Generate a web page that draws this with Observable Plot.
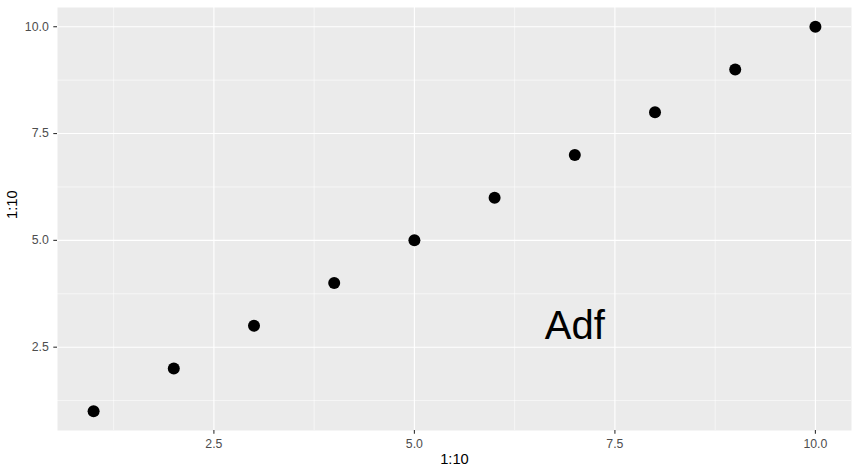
<!DOCTYPE html>
<html>
<head>
<meta charset="utf-8">
<script src="https://cdn.jsdelivr.net/npm/d3@7"></script>
<script src="https://cdn.jsdelivr.net/npm/@observablehq/plot@0.6"></script>
<style>
  html, body { margin: 0; padding: 0; background: #fff; }
  #chart svg { display: block; }
</style>
</head>
<body>
<div id="chart"></div>
<script>
const xValues = [1, 2, 3, 4, 5, 6, 7, 8, 9, 10];
const yValues = [1, 2, 3, 4, 5, 6, 7, 8, 9, 10];
const majorTicks = [2.5, 5.0, 7.5, 10.0];
const minorTicks = [1.25, 3.75, 6.25, 8.75];
const annotationLabel = ["Adf"];
const annotationX = [7];
const annotationY = [3];
const xTitle = "1:10";
const yTitle = "1:10";

const points = xValues.map((x, i) => ({x, y: yValues[i]}));
const annotations = annotationLabel.map((t, i) => ({x: annotationX[i], y: annotationY[i], t}));

const font = "'Liberation Sans', Arial, Helvetica, sans-serif";
const fmt = d3.format(".1f");

const chart = Plot.plot({
  width: 858,
  height: 471,
  marginLeft: 57,
  marginRight: 7,
  marginTop: 7,
  marginBottom: 41,
  style: {fontFamily: font, background: "#fff"},
  x: {domain: [0.55, 10.45]},
  y: {domain: [0.55, 10.45]},
  marks: [
    Plot.frame({fill: "#EBEBEB", stroke: null}),
    Plot.ruleX(minorTicks, {stroke: "#fff", strokeWidth: 0.55}),
    Plot.ruleY(minorTicks, {stroke: "#fff", strokeWidth: 0.55}),
    Plot.ruleX(majorTicks, {stroke: "#fff", strokeWidth: 1.1}),
    Plot.ruleY(majorTicks, {stroke: "#fff", strokeWidth: 1.1}),
    Plot.axisX(majorTicks, {
      ticks: majorTicks, tickFormat: fmt, tickSize: 3.7, tickPadding: 5,
      stroke: "#333", strokeWidth: 1.1, fill: "#4D4D4D",
      label: null
    }),
    Plot.axisY(majorTicks, {
      ticks: majorTicks, tickFormat: fmt, tickSize: 3.7, tickPadding: 5,
      stroke: "#333", strokeWidth: 1.1, fill: "#4D4D4D",
      label: null
    }),
    Plot.text([xTitle], {frameAnchor: "bottom", dy: 29, text: d => d, fontSize: 14.7, fill: "#000", lineAnchor: "middle"}),
    Plot.text([yTitle], {frameAnchor: "left", dx: -45, text: d => d, fontSize: 14.7, fill: "#000", rotate: -90, lineAnchor: "middle"}),
    Plot.dot(points, {x: "x", y: "y", r: 6, fill: "#000", stroke: null}),
    Plot.text(annotations, {x: "x", y: "y", text: "t", fontSize: 40, fill: "#000", textAnchor: "middle"})
  ]
});

chart.querySelectorAll("g[aria-label$='tick label']").forEach(g => {
  g.style.fontSize = "12.3px";
  g.querySelectorAll("text").forEach(t => { t.style.fontSize = "12.3px"; });
});

document.getElementById("chart").appendChild(chart);
</script>
</body>
</html>
